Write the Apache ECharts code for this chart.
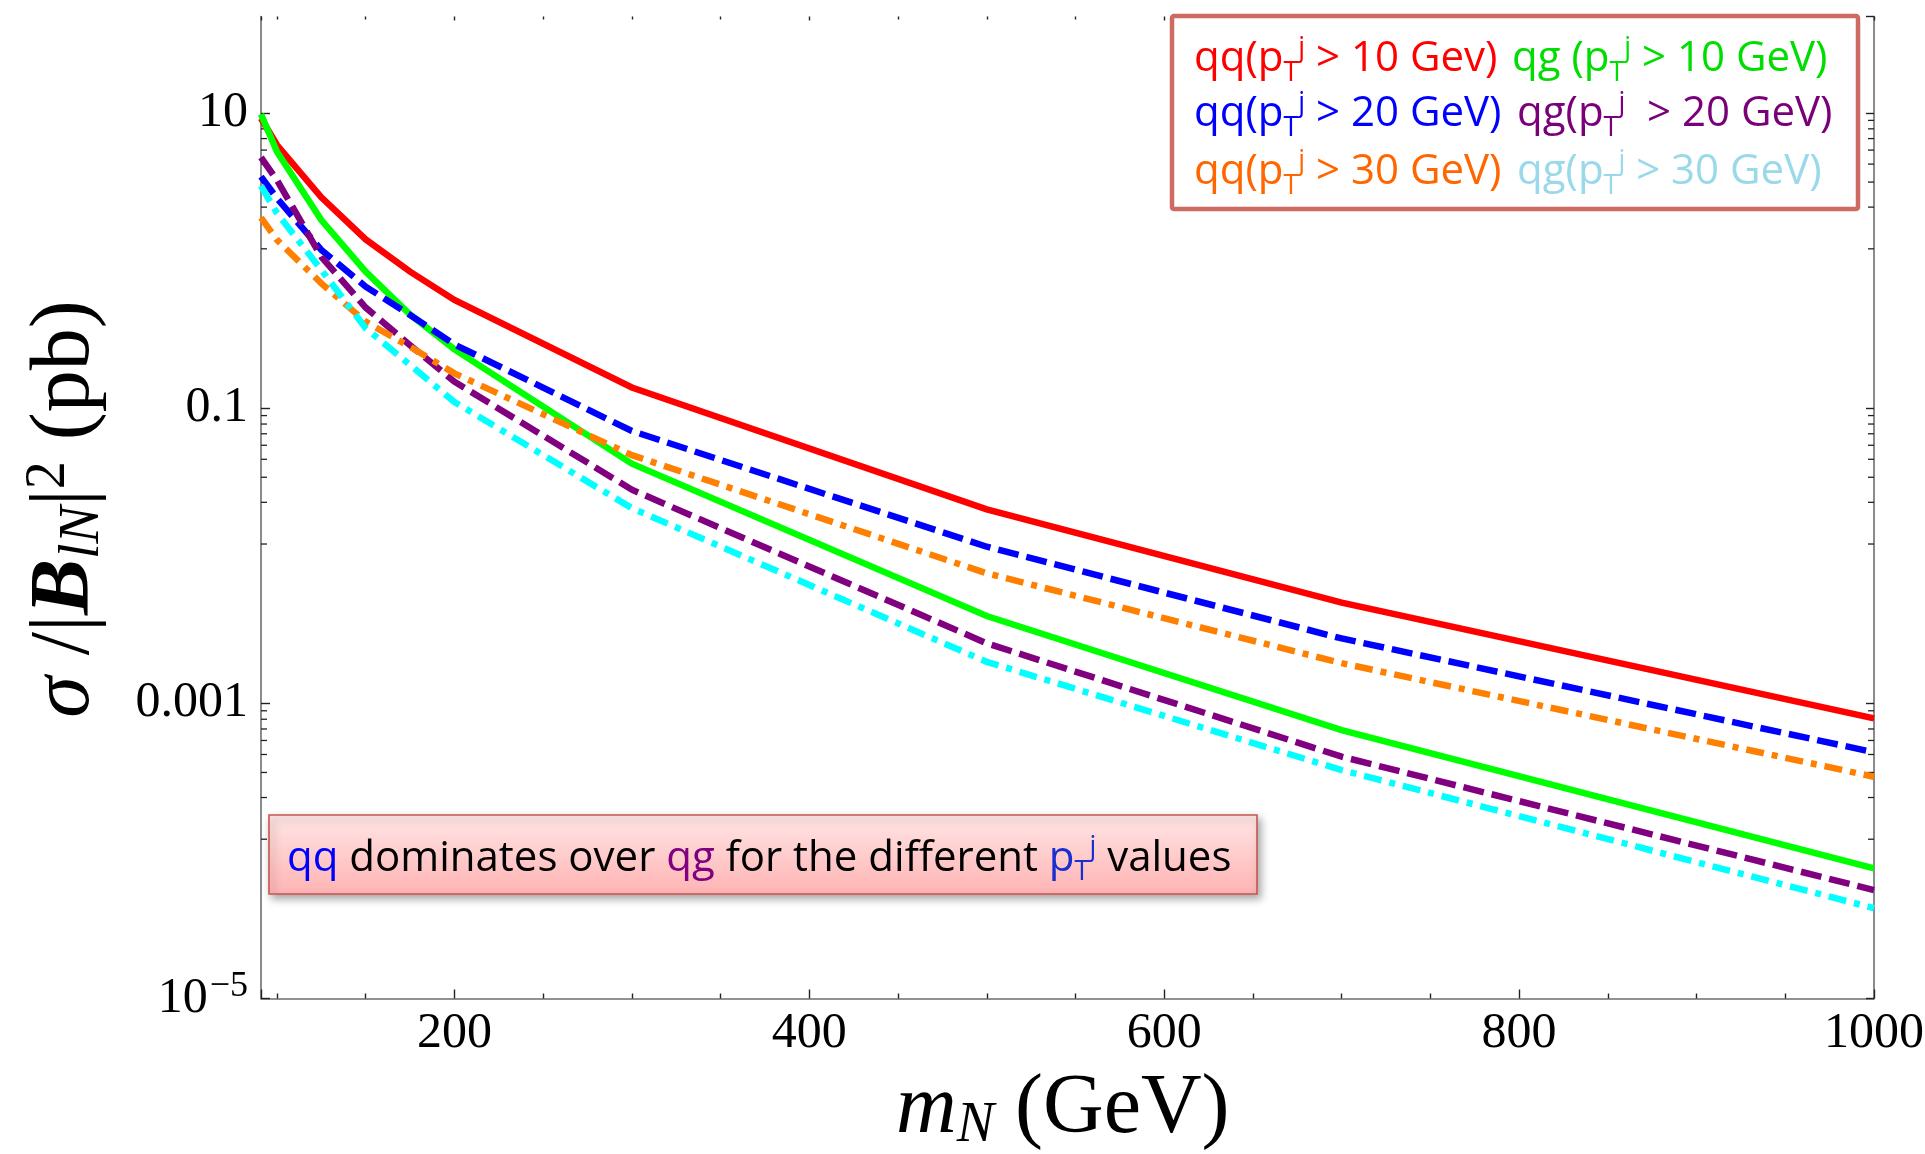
<!DOCTYPE html>
<html>
<head>
<meta charset="utf-8">
<script src="https://cdn.jsdelivr.net/npm/echarts@6/dist/echarts.min.js"></script>
<style>
html,body{margin:0;padding:0;background:#ffffff;}
#chart{width:1925px;height:1154px;}
</style>
</head>
<body>
<div id="chart"></div>
<script>
// ---------------- data ----------------
const massGeV = [91, 100, 125, 150, 175, 200, 300, 500, 700, 1000];
const qq10 = [9.2, 6.06, 2.68, 1.39, 0.84, 0.54, 0.138, 0.0206, 0.00481, 0.00079];
const qg10 = [9.8, 5.46, 1.88, 0.84, 0.43, 0.25, 0.042, 0.0039, 0.000659, 0.0000762];
const qq20 = [3.7, 2.64, 1.18, 0.665, 0.428, 0.27, 0.070, 0.0115, 0.00275, 0.000466];
const qg20 = [5.0, 3.51, 1.06, 0.48, 0.267, 0.151, 0.028, 0.00255, 0.000435, 0.0000543];
const qq30 = [1.95, 1.38, 0.70, 0.385, 0.26, 0.172, 0.048, 0.0076, 0.00187, 0.000318];
const qg30 = [3.2, 2.09, 0.863, 0.348, 0.196, 0.11, 0.021, 0.00191, 0.000353, 0.0000409];

const xMin = 91, xMax = 1000;
const yMin = 1e-5, yMax = 45;
const yTickExponents = [-5, -3, -1, 1];
const yTickLabels = ['{b|10}{sup|\u22125}', '0.001', '0.1', '10'];
const yMinorTicks = [8.9, 7.8, 6.7, 5.6, 4.5, 3.4, 2.3, 1.2,
  0.089, 0.078, 0.067, 0.056, 0.045, 0.034, 0.023, 0.012,
  0.00089, 0.00078, 0.00067, 0.00056, 0.00045, 0.00034, 0.00023, 0.00012];

const seriesNames = ['qq(pTj > 10 GeV)', 'qg (pTj > 10 GeV)', 'qq(pTj > 20 GeV)', 'qg(pTj > 20 GeV)', 'qq(pTj > 30 GeV)', 'qg(pTj > 30 GeV)'];
const seriesValues = [qq10, qg10, qq20, qg20, qq30, qg30];
const seriesColors = ['#ff0000', '#00ff00', '#0000ff', '#800080', '#ff8000', '#00ffff'];
const seriesDash = ['solid', 'solid', [21, 8], [21, 8], [18, 8, 6, 8], [18, 8, 6, 8]];

// ---------------- chart ----------------
const chart = echarts.init(document.getElementById('chart'), null, {renderer: 'canvas'});
const serif = '"Liberation Serif", "Times New Roman", serif';
const sans = '"Open Sans", "Noto Sans", sans-serif';

const lineSeries = seriesValues.map((vals, i) => ({
  name: seriesNames[i],
  type: 'line',
  data: massGeV.map((m, k) => [m, vals[k]]),
  showSymbol: false,
  symbol: 'none',
  smooth: false,
  clip: true,
  z: 3 + i,
  lineStyle: {color: seriesColors[i], width: 6.5, type: seriesDash[i], cap: 'butt', join: 'miter'},
  emphasis: {disabled: true}
}));

const minorTickSeries = {
  type: 'custom',
  silent: true,
  clip: false,
  z: 2,
  data: yMinorTicks.map(v => [xMin, v]),
  encode: {x: 0, y: 1},
  renderItem: function (params, api) {
    const v = api.value(1);
    const pL = api.coord([xMin, v]);
    const pR = api.coord([xMax, v]);
    return {
      type: 'group',
      children: [
        {type: 'line', shape: {x1: pL[0], y1: pL[1], x2: pL[0] + 6, y2: pL[1]}, style: {stroke: '#222', lineWidth: 1.3}},
        {type: 'line', shape: {x1: pR[0] - 6, y1: pR[1], x2: pR[0], y2: pR[1]}, style: {stroke: '#222', lineWidth: 1.3}}
      ]
    };
  }
};

function yLabel(v) {
  const e = Math.round(Math.log10(v));
  const idx = yTickExponents.indexOf(e);
  return idx >= 0 ? yTickLabels[idx] : '';
}

const axisLineStyle = {color: '#6e6e6e', width: 1.6};
const tickStyle = {color: '#222', width: 1.4};

const option = {
  backgroundColor: '#ffffff',
  animation: false,
  grid: {left: 261, right: 51, top: 16.5, bottom: 155.5, containLabel: false, outerBoundsMode: 'none'},
  xAxis: [
    {
      type: 'value', min: xMin, max: xMax, position: 'bottom',
      axisLine: {show: true, onZero: false, lineStyle: axisLineStyle},
      axisTick: {show: true, inside: true, length: 9, lineStyle: tickStyle},
      minorTick: {show: true, splitNumber: 4, length: 5, lineStyle: tickStyle},
      splitLine: {show: false}, minorSplitLine: {show: false},
      axisLabel: {show: true, showMinLabel: false, showMaxLabel: true, margin: 10, color: '#000', fontFamily: serif, fontSize: 50,
        formatter: v => String(Math.round(v))}
    },
    {
      type: 'value', min: xMin, max: xMax, position: 'top',
      axisLine: {show: false, onZero: false},
      axisTick: {show: true, inside: true, length: 4, lineStyle: tickStyle},
      minorTick: {show: true, splitNumber: 4, length: 3, lineStyle: tickStyle},
      splitLine: {show: false}, minorSplitLine: {show: false},
      axisLabel: {show: false}
    }
  ],
  yAxis: [
    {
      type: 'log', logBase: 10, min: yMin, max: yMax, interval: 2, position: 'left',
      axisLine: {show: true, onZero: false, lineStyle: axisLineStyle},
      axisTick: {show: true, inside: true, length: 9, lineStyle: tickStyle},
      splitLine: {show: false},
      axisLabel: {
        show: true, showMaxLabel: false, margin: 13, color: '#000', fontFamily: serif, fontSize: 50,
        formatter: yLabel,
        rich: {
          b: {fontFamily: serif, fontSize: 50, color: '#000', lineHeight: 60},
          sup: {fontFamily: serif, fontSize: 36, color: '#000', verticalAlign: 'top', padding: [0, 0, 0, 2]}
        }
      }
    },
    {
      type: 'log', logBase: 10, min: yMin, max: yMax, interval: 2, position: 'right',
      axisLine: {show: true, onZero: false, lineStyle: axisLineStyle},
      axisTick: {show: true, inside: true, length: 8, lineStyle: tickStyle},
      splitLine: {show: false},
      axisLabel: {show: false}
    }
  ],
  series: lineSeries.concat([minorTickSeries]),
  graphic: {
    elements: [
      // x-axis title
      {
        type: 'text', x: 896, y: 1154, z: 50,
        style: {
          text: '{i|m}{s|N}{n| (GeV)}',
          align: 'left', verticalAlign: 'bottom', textAlign: 'left', textVerticalAlign: 'bottom',
          rich: {
            i: {fontFamily: serif, fontStyle: 'italic', fontSize: 84, fill: '#000', color: '#000', lineHeight: 88},
            s: {fontFamily: serif, fontStyle: 'italic', fontSize: 56, fill: '#000', color: '#000', verticalAlign: 'bottom'},
            n: {fontFamily: serif, fontSize: 84, fill: '#000', color: '#000', lineHeight: 88}
          }
        }
      },
      // y-axis title
      {
        type: 'text', x: 66, y: 509, rotation: Math.PI / 2, z: 50,
        style: {
          text: '{i|\u03c3}{n| /|}{bi|B}{s|lN}{n||}{sup|2}{n| (pb)}',
          align: 'center', verticalAlign: 'middle', textAlign: 'center', textVerticalAlign: 'middle',
          rich: {
            i: {fontFamily: serif, fontStyle: 'italic', fontSize: 84, fill: '#000', color: '#000', lineHeight: 90},
            bi: {fontFamily: serif, fontStyle: 'italic', fontWeight: 'bold', fontSize: 84, fill: '#000', color: '#000', lineHeight: 90},
            s: {fontFamily: serif, fontStyle: 'italic', fontSize: 56, fill: '#000', color: '#000', verticalAlign: 'bottom'},
            sup: {fontFamily: serif, fontSize: 56, fill: '#000', color: '#000', verticalAlign: 'top'},
            n: {fontFamily: serif, fontSize: 84, fill: '#000', color: '#000', lineHeight: 90}
          }
        }
      },
      // legend box
      {
        type: 'rect', z: 60,
        shape: {x: 1172, y: 16, width: 686, height: 193, r: 2},
        style: {fill: '#ffffff', stroke: '#cd6b63', lineWidth: 4.5}
      },
      // annotation box
      {
        type: 'rect', z: 60,
        shape: {x: 269, y: 815, width: 988, height: 79},
        style: {
          fill: {type: 'linear', x: 0, y: 0, x2: 0, y2: 1, colorStops: [{offset: 0, color: '#ffe6e6'}, {offset: 1, color: '#ffb3b3'}]},
          stroke: '#c9554f', lineWidth: 1.6,
          shadowBlur: 8, shadowOffsetX: 3, shadowOffsetY: 4, shadowColor: 'rgba(0,0,0,0.35)'
        }
      }
    ]
  }
};

// legend texts
function legendRich(color) {
  return {
    a: {fontFamily: sans, fontSize: 42, fill: color, color: color, lineHeight: 60},
    s: {fontFamily: sans, fontSize: 27, fill: color, color: color, verticalAlign: 'bottom', padding: [0, 0, 2, 0]},
    u: {fontFamily: sans, fontSize: 27, fill: color, color: color, verticalAlign: 'top', padding: [6, 0, 0, 0]}
  };
}
const legendCells = [
  {x: 1194, y: 58.8, color: '#ff0000', text: '{a|qq(p}{s|T}{u|j}{a| > 10 Gev)}'},
  {x: 1512, y: 58.8, color: '#00dd00', text: '{a|qg (p}{s|T}{u|j}{a| > 10 GeV)}'},
  {x: 1194, y: 114.2, color: '#0000ff', text: '{a|qq(p}{s|T}{u|j}{a| > 20 GeV)}'},
  {x: 1517, y: 114.2, color: '#7a007a', text: '{a|qg(p}{s|T}{u|j}{a|  > 20 GeV)}'},
  {x: 1194, y: 171.7, color: '#ff6600', text: '{a|qq(p}{s|T}{u|j}{a| > 30 GeV)}'},
  {x: 1517, y: 171.7, color: '#99d9ea', text: '{a|qg(p}{s|T}{u|j}{a| > 30 GeV)}'}
];
legendCells.forEach(c => {
  option.graphic.elements.push({
    type: 'text', x: c.x, y: c.y, z: 70,
    style: {text: c.text, align: 'left', verticalAlign: 'middle', textAlign: 'left', textVerticalAlign: 'middle', rich: legendRich(c.color)}
  });
});

// annotation text
const annRich = {
  k: {fontFamily: sans, fontSize: 42, fill: '#000', color: '#000', lineHeight: 60},
  b: {fontFamily: sans, fontSize: 42, fill: '#0000ff', color: '#0000ff', lineHeight: 60},
  p: {fontFamily: sans, fontSize: 42, fill: '#800080', color: '#800080', lineHeight: 60},
  b2: {fontFamily: sans, fontSize: 42, fill: '#1a2fd0', color: '#1a2fd0', lineHeight: 60},
  s: {fontFamily: sans, fontSize: 27, fill: '#1a2fd0', color: '#1a2fd0', verticalAlign: 'bottom', padding: [0, 0, 3, 0]},
  u: {fontFamily: sans, fontSize: 27, fill: '#1a2fd0', color: '#1a2fd0', verticalAlign: 'top', padding: [5, 0, 0, 0]}
};
option.graphic.elements.push({
  type: 'text', x: 287, y: 859, z: 70,
  style: {
    text: '{b|qq}{k| dominates over }{p|qg}{k| for the different }{b2|p}{s|T}{u|j}{k| values}',
    align: 'left', verticalAlign: 'middle', textAlign: 'left', textVerticalAlign: 'middle',
    rich: annRich
  }
});

chart.setOption(option);
</script>
</body>
</html>
